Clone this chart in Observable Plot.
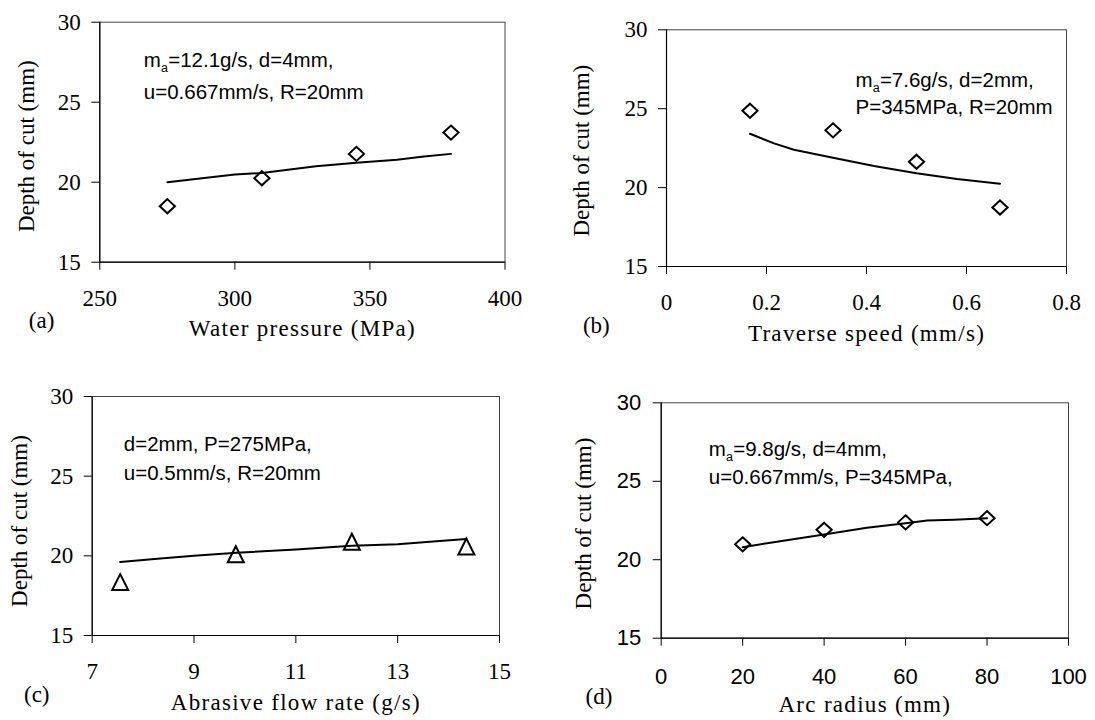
<!DOCTYPE html>
<html><head><meta charset="utf-8">
<script src="https://cdn.jsdelivr.net/npm/d3@7"></script>
<script src="https://cdn.jsdelivr.net/npm/@observablehq/plot@0.6"></script>
<style>
body{margin:0;background:#fff;}
#root{position:relative;width:1095px;height:720px;background:#fff;overflow:hidden;}
#root svg{position:absolute;overflow:visible;}
g[aria-description="xtitle"] text{letter-spacing:1.3px;}
</style></head><body><div id="root"></div>
<script>
// ---------- data ----------
const yTicks = [15, 20, 25, 30];
const yTitle = "Depth of cut (mm)";

// (a) water pressure
const pressure = [275, 310, 345, 380];
const depthA = [18.5, 20.25, 21.77, 23.1];
const fitPressure = [275, 300, 310, 330, 345, 360, 370, 380];
const fitDepthA = [20.0, 20.48, 20.58, 21.0, 21.21, 21.4, 21.6, 21.77];
const pressureTicks = [250, 300, 350, 400];
const titleA = "Water pressure (MPa)";
const notesA = ["m", "a", "=12.1g/s, d=4mm,", "u=0.667mm/s, R=20mm"];

// (b) traverse speed
const speed = [0.167, 0.333, 0.5, 0.667];
const depthB = [24.87, 23.63, 21.64, 18.74];
const fitSpeed = [0.167, 0.215, 0.255, 0.333, 0.415, 0.5, 0.581, 0.667];
const fitDepthB = [23.41, 22.8, 22.4, 21.89, 21.37, 20.91, 20.55, 20.25];
const speedTicks = [0, 0.2, 0.4, 0.6, 0.8];
const titleB = "Traverse speed (mm/s)";
const notesB = ["m", "a", "=7.6g/s, d=2mm,", "P=345MPa, R=20mm"];

// (c) abrasive flow rate
const flow = [7.55, 9.82, 12.1, 14.35];
const depthC = [18.35, 20.1, 20.88, 20.58];
const fitFlow = [7.55, 8.34, 9.0, 9.84, 11.0, 12.1, 13.0, 13.76, 14.35];
const fitDepthC = [19.62, 19.84, 20.0, 20.19, 20.4, 20.63, 20.73, 20.92, 21.05];
const flowTicks = [7, 9, 11, 13, 15];
const titleC = "Abrasive flow rate (g/s)";
const notesC = ["d=2mm, P=275MPa,", "u=0.5mm/s, R=20mm"];

// (d) arc radius
const radius = [20, 40, 60, 80];
const depthD = [20.98, 21.91, 22.38, 22.65];
const fitRadius = [20, 27.6, 40, 50.5, 60, 65.3, 71.8, 80];
const fitDepthD = [20.8, 21.12, 21.61, 22.04, 22.33, 22.5, 22.55, 22.65];
const radiusTicks = [0, 20, 40, 60, 80, 100];
const titleD = "Arc radius (mm)";
const notesD = ["m", "a", "=9.8g/s, d=4mm,", "u=0.667mm/s, P=345MPa,"];

const letters = ["(a)", "(b)", "(c)", "(d)"];

// ---------- symbols ----------
const diamond = {draw(ctx, size) {
  const a = Math.sqrt(size / Math.PI), b = a * 0.93;
  ctx.moveTo(0, -b); ctx.lineTo(a, 0); ctx.lineTo(0, b); ctx.lineTo(-a, 0); ctx.closePath();
}};
const triangle = {draw(ctx, size) {
  const a = Math.sqrt(size / Math.PI);
  ctx.moveTo(0, -a); ctx.lineTo(a, a); ctx.lineTo(-a, a); ctx.closePath();
}};

const SERIF = "Liberation Serif";
const SANS = "Liberation Sans";

function panel(c) {
  const pts = c.xs.map((x, i) => ({x, y: c.ys[i]}));
  const fit = c.fx.map((x, i) => ({x, y: c.fy[i]}));
  const marks = [
    Plot.frame({stroke: "#444", strokeWidth: 1}),
    Plot.ruleX([c.xDomain[0]], {stroke: "#000", strokeWidth: 1.2}),
    Plot.ruleY([yTicks[0]], {stroke: "#000", strokeWidth: 1.2}),
    Plot.axisX({ticks: c.xTicks, tickSize: 8, tickPadding: c.sansTicks ? 22 : 19, label: null,
      tickFormat: d => String(d)}),
    Plot.axisY({ticks: yTicks, tickSize: 8, tickPadding: c.sansTicks ? 12 : 11, label: null,
      tickFormat: d => String(d)}),
    Plot.line(fit, {x: "x", y: "y", stroke: "#000", strokeWidth: 2}),
    Plot.dot(pts, {x: "x", y: "y", symbol: c.symbol, r: c.r, stroke: "#000", strokeWidth: 2, fill: "none"}),
    Plot.text([c.title], {text: d => d, frameAnchor: "bottom", dy: 74, lineAnchor: "bottom",
      textAnchor: "middle", fontFamily: SERIF, fontSize: 23, fill: "#000", ariaDescription: "xtitle"}),
    Plot.text([c.letter], {text: d => d, frameAnchor: "bottom-left", dx: c.letterDx, dy: 66, lineAnchor: "bottom",
      textAnchor: "start", fontFamily: SERIF, fontSize: 23, fill: "#000", ariaDescription: "custom"}),
    Plot.text([yTitle], {text: d => d, frameAnchor: "left", rotate: -90, dx: c.ytDx, dy: c.ytDy,
      lineAnchor: "bottom", textAnchor: "middle", fontFamily: SERIF, fontSize: 23, fill: "#000", ariaDescription: "custom"})
  ];
  for (const n of c.notes) {
    marks.push(Plot.text([n.t], {text: d => d, frameAnchor: "top-left", dx: n.dx, dy: n.dy, lineAnchor: "bottom",
      textAnchor: "start", fontFamily: SANS, fontSize: n.s, fill: "#000", ariaDescription: "note"}));
  }
  const svg = Plot.plot({
    width: c.w, height: c.h,
    marginLeft: c.ml, marginRight: c.mr, marginTop: c.mt, marginBottom: c.mb,
    x: {domain: c.xDomain},
    y: {domain: [yTicks[0], yTicks[yTicks.length - 1]]},
    style: {fontSize: "23px", background: "transparent", overflow: "visible", color: "#000"},
    marks
  });
  // tick labels: serif (Times-like) or sans (Arial-like) per panel
  const tickFamily = c.sansTicks ? "'Liberation Sans', Arial, sans-serif" : "'Liberation Serif', 'Times New Roman', serif";
  const tickPx = c.sansTicks ? "22px" : "23px";
  svg.querySelectorAll("text").forEach(t => {
    if (!t.closest("g[aria-description]")) {
      t.style.setProperty("font-family", tickFamily, "important");
      t.style.setProperty("font-size", tickPx, "important");
    }
  });
  svg.style.left = c.left + "px";
  svg.style.top = c.top + "px";
  document.getElementById("root").appendChild(svg);
}

function note3(arr, dx, dy, dy2, mW, subW) {
  return [
    {t: arr[0], dx: dx, dy: dy, s: 20.5},
    {t: arr[1], dx: dx + mW, dy: dy + 5, s: 12.5},
    {t: arr[2], dx: dx + mW + subW, dy: dy, s: 20.5},
    {t: arr[3], dx: dx, dy: dy2, s: 20.5}
  ];
}

panel({left: 0, top: 0, w: 547, h: 360, ml: 99.3, mr: 42.5, mt: 21.7, mb: 98.3,
  xDomain: [250, 400], xTicks: pressureTicks, xs: pressure, ys: depthA, fx: fitPressure, fy: fitDepthA,
  symbol: diamond, r: 7.6, title: titleA, letter: letters[0], letterDx: -71, ytDx: -66, ytDy: 4,
  notes: note3(notesA, 44, 45, 76.6, 17.2, 7.2)});

panel({left: 547, top: 0, w: 548, h: 360, ml: 119, mr: 29, mt: 29.3, mb: 94,
  xDomain: [0, 0.8], xTicks: speedTicks, xs: speed, ys: depthB, fx: fitSpeed, fy: fitDepthB,
  symbol: diamond, r: 7.6, title: titleB, letter: letters[1], letterDx: -83.6, ytDx: -78, ytDy: 2.5,
  notes: note3(notesB, 189, 57.4, 84.5, 17.2, 7.2)});

panel({left: 0, top: 360, w: 547, h: 360, ml: 91.7, mr: 48, mt: 36, mb: 85,
  xDomain: [7, 15], xTicks: flowTicks, xs: flow, ys: depthC, fx: fitFlow, fy: fitDepthC,
  symbol: triangle, r: 8, title: titleC, letter: letters[2], letterDx: -68.2, ytDx: -65.7, ytDy: 5,
  notes: [{t: notesC[0], dx: 31.6, dy: 54.7, s: 20.5}, {t: notesC[1], dx: 31.6, dy: 83.3, s: 20.5}]});

panel({left: 547, top: 360, w: 548, h: 360, ml: 113.7, mr: 27, mt: 42.3, mb: 82.3,
  xDomain: [0, 100], xTicks: radiusTicks, xs: radius, ys: depthD, fx: fitRadius, fy: fitDepthD,
  symbol: diamond, r: 7.6, title: titleD, letter: letters[3], letterDx: -75.7, ytDx: -70.7, ytDy: 3,
  sansTicks: true,
  notes: note3(notesD, 47.6, 53.4, 81, 17.2, 7.2)});
</script></body></html>
